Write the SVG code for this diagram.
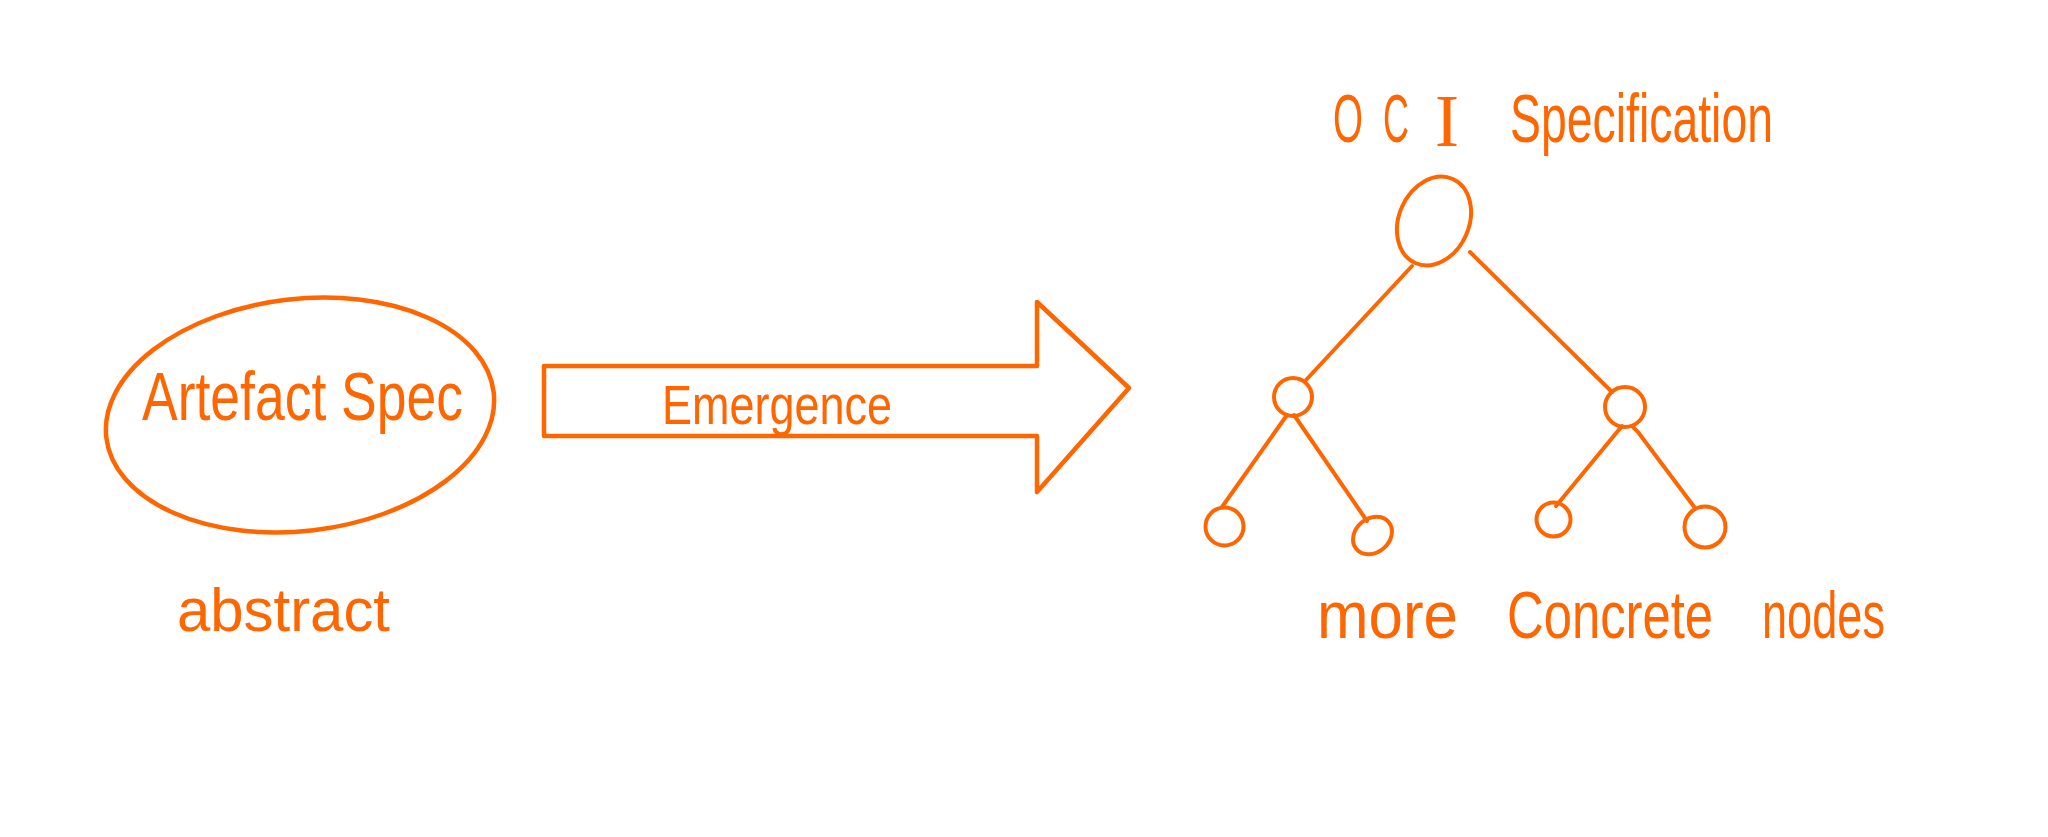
<svg xmlns="http://www.w3.org/2000/svg" width="2048" height="837" viewBox="0 0 2048 837">
<style>
.s{fill:none;stroke:#FF6600;stroke-width:4.5;stroke-linecap:round;stroke-linejoin:round}
.n{fill:none;stroke:#FF6600;stroke-width:4}
.c{stroke:#FF6600;stroke-width:4;stroke-linecap:round}
.t{fill:#FF6600;font-family:"Liberation Sans",Arial,sans-serif}
.ts{fill:#FF6600;font-family:"Liberation Serif","Times New Roman",serif}
</style>
<rect width="2048" height="837" fill="#FFFFFF"/>
<g id="artefact-spec">
<ellipse class="s" cx="300" cy="415" rx="195" ry="116" transform="rotate(-6.7 300 415)"/>
<text class="t" x="142" y="420" font-size="68" textLength="321" lengthAdjust="spacingAndGlyphs">Artefact Spec</text>
</g>
<g id="abstract-label">
<text class="t" x="177" y="631" font-size="62" textLength="213" lengthAdjust="spacingAndGlyphs">abstract</text>
</g>
<g id="emergence-arrow">
<polygon class="s" points="544,366 1037,366 1037,302 1129,388 1037,492 1037,436 544,436"/>
<text class="t" x="662" y="424" font-size="56" textLength="230" lengthAdjust="spacingAndGlyphs">Emergence</text>
</g>
<g id="oci-title">
<text class="t" x="1333" y="142" font-size="68" textLength="30" lengthAdjust="spacingAndGlyphs">O</text>
<text class="t" x="1383" y="142" font-size="68" textLength="26" lengthAdjust="spacingAndGlyphs">C</text>
<text class="ts" x="1435" y="146" font-size="74" textLength="24" lengthAdjust="spacingAndGlyphs">I</text>
<text class="t" x="1510" y="142" font-size="68" textLength="263" lengthAdjust="spacingAndGlyphs">Specification</text>
</g>
<g id="connectors">
<line class="c" x1="1412" y1="266" x2="1306" y2="380"/>
<line class="c" x1="1470" y1="252" x2="1612" y2="392"/>
<line class="c" x1="1287" y1="415" x2="1222" y2="507"/>
<line class="c" x1="1294" y1="415" x2="1367" y2="521"/>
<line class="c" x1="1622" y1="426" x2="1556" y2="506"/>
<polyline class="c" fill="none" points="1632,426 1638,432 1695,508"/>
</g>
<g id="root-node"><ellipse class="n" cx="1434" cy="221" rx="35" ry="46" transform="rotate(24 1434 221)"/></g>
<g id="left-node"><circle class="n" cx="1293" cy="397" r="19"/></g>
<g id="right-node"><circle class="n" cx="1625" cy="407" r="20"/></g>
<g id="left-left-node"><circle class="n" cx="1224.5" cy="526.5" r="19"/></g>
<g id="left-right-node"><ellipse class="n" cx="1372.5" cy="535.5" rx="21" ry="17" transform="rotate(-40 1372.5 535.5)"/></g>
<g id="right-left-node"><circle class="n" cx="1553.5" cy="519.5" r="17"/></g>
<g id="right-right-node"><circle class="n" cx="1705" cy="527" r="20.5"/></g>
<g id="concrete-label">
<text class="t" x="1317" y="638" font-size="66" textLength="141" lengthAdjust="spacingAndGlyphs">more</text>
<text class="t" x="1507" y="638" font-size="66" textLength="206" lengthAdjust="spacingAndGlyphs">Concrete</text>
<text class="t" x="1762" y="638" font-size="66" textLength="123" lengthAdjust="spacingAndGlyphs">nodes</text>
</g>
</svg>
